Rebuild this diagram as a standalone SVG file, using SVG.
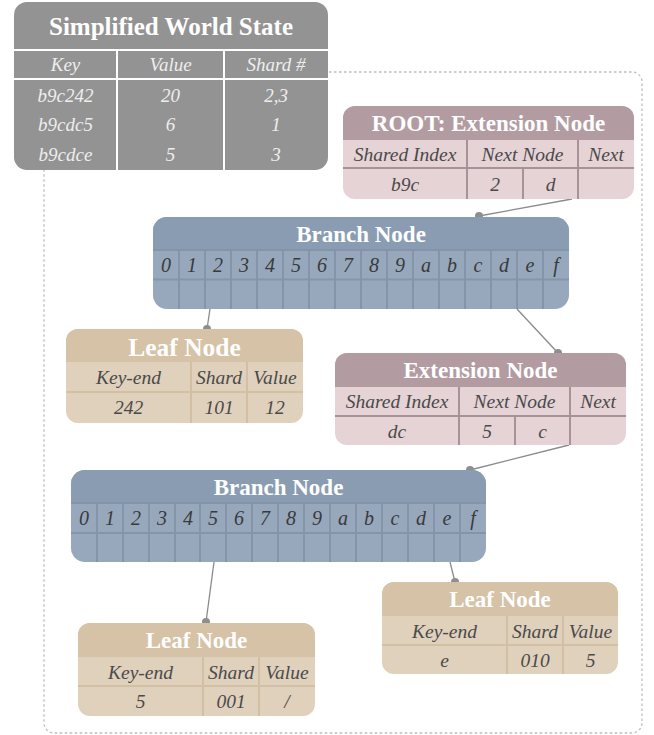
<svg xmlns="http://www.w3.org/2000/svg" width="654" height="735" viewBox="0 0 654 735">
<style>
.title{font-family:"Liberation Serif",serif;font-weight:bold;fill:#ffffff;text-anchor:middle}
.cell{font-family:"Liberation Serif",serif;font-style:italic;font-size:19.5px;fill:#4a4a4a;text-anchor:middle}
.ws{font-family:"Liberation Serif",serif;font-style:italic;font-size:19px;fill:#eeeeee;text-anchor:middle}
.dig{font-family:"Liberation Serif",serif;font-style:italic;font-size:20px;fill:#3a3a3a;text-anchor:middle}
.wl{stroke:#ffffff;stroke-width:2}
.el{stroke:#a8929a;stroke-width:2}
.bl{stroke:#8495aa;stroke-width:2}
.ll{stroke:#d2bfa4;stroke-width:2}
.conn line{stroke:#8a8a8a;stroke-width:1.3}
.conn circle{fill:#8e8e8e}
</style>
<rect x="44" y="72" width="598" height="661" rx="10" fill="none" stroke="#bdbdbd" stroke-width="1.3" stroke-dasharray="2.5,2.5"/>

<g id="world-state">
<rect x="14" y="2" width="314" height="168" rx="13" fill="#939393"/>
<text class="title" x="171" y="35" font-size="25">Simplified World State</text>
<line class="wl" x1="14" y1="50" x2="328" y2="50"/>
<line class="wl" x1="14" y1="79" x2="328" y2="79"/>
<line class="wl" x1="117" y1="50" x2="117" y2="170"/>
<line class="wl" x1="224" y1="50" x2="224" y2="170"/>
<text class="ws" x="65.5" y="71">Key</text>
<text class="ws" x="170.5" y="71">Value</text>
<text class="ws" x="276" y="71">Shard #</text>
<text class="ws" x="65.5" y="102">b9c242</text>
<text class="ws" x="170.5" y="102">20</text>
<text class="ws" x="276" y="102">2,3</text>
<text class="ws" x="65.5" y="131">b9cdc5</text>
<text class="ws" x="170.5" y="131">6</text>
<text class="ws" x="276" y="131">1</text>
<text class="ws" x="65.5" y="161">b9cdce</text>
<text class="ws" x="170.5" y="161">5</text>
<text class="ws" x="276" y="161">3</text>
</g>

<g id="connectors" class="conn">
<line x1="572" y1="199" x2="479" y2="216"/>
<circle cx="479" cy="216" r="4"/>
<line x1="210" y1="309" x2="207" y2="329"/>
<circle cx="207" cy="329" r="4"/>
<line x1="517" y1="309" x2="558" y2="353"/>
<circle cx="558" cy="353" r="4"/>
<line x1="569" y1="445" x2="470" y2="470"/>
<circle cx="470" cy="470" r="4"/>
<line x1="214" y1="562" x2="206" y2="622"/>
<circle cx="206" cy="622" r="4"/>
<line x1="450" y1="562" x2="455" y2="582"/>
<circle cx="455" cy="582" r="4"/>
</g>

<g id="root-extension">
<rect x="343" y="106" width="291" height="93" rx="12" fill="#e5d3d6"/>
<path d="M343,140 V118 A12,12 0 0 1 355,106 H622 A12,12 0 0 1 634,118 V140 Z" fill="#b29ca2"/>
<text class="title" x="488.5" y="131" font-size="23">ROOT: Extension Node</text>
<line class="el" x1="343" y1="168" x2="634" y2="168"/>
<line class="el" x1="467" y1="140" x2="467" y2="199"/>
<line class="el" x1="578" y1="140" x2="578" y2="199"/>
<line class="el" x1="523" y1="168" x2="523" y2="199"/>
<text class="cell" x="405" y="161">Shared Index</text>
<text class="cell" x="522.5" y="161">Next Node</text>
<text class="cell" x="606" y="161">Next</text>
<text class="cell" x="405" y="191">b9c</text>
<text class="cell" x="495" y="191">2</text>
<text class="cell" x="550.5" y="191">d</text>
</g>

<g id="branch-1">
<rect x="153" y="217" width="416" height="92" rx="14" fill="#97a8bd"/>
<path d="M153,250 V231 A14,14 0 0 1 167,217 H555 A14,14 0 0 1 569,231 V250 Z" fill="#8a9cb1"/>
<text class="title" x="361" y="242" font-size="23">Branch Node</text>
<line class="bl" x1="153" y1="250" x2="569" y2="250"/>
<line class="bl" x1="153" y1="279.5" x2="569" y2="279.5"/>
<g class="bl">
<line x1="179" y1="250" x2="179" y2="309"/><line x1="205" y1="250" x2="205" y2="309"/><line x1="231" y1="250" x2="231" y2="309"/><line x1="257" y1="250" x2="257" y2="309"/><line x1="283" y1="250" x2="283" y2="309"/><line x1="309" y1="250" x2="309" y2="309"/><line x1="335" y1="250" x2="335" y2="309"/><line x1="361" y1="250" x2="361" y2="309"/><line x1="387" y1="250" x2="387" y2="309"/><line x1="413" y1="250" x2="413" y2="309"/><line x1="439" y1="250" x2="439" y2="309"/><line x1="465" y1="250" x2="465" y2="309"/><line x1="491" y1="250" x2="491" y2="309"/><line x1="517" y1="250" x2="517" y2="309"/><line x1="543" y1="250" x2="543" y2="309"/>
</g>
<text class="dig" y="272"><tspan x="166">0</tspan><tspan x="192">1</tspan><tspan x="218">2</tspan><tspan x="244">3</tspan><tspan x="270">4</tspan><tspan x="296">5</tspan><tspan x="322">6</tspan><tspan x="348">7</tspan><tspan x="374">8</tspan><tspan x="400">9</tspan><tspan x="426">a</tspan><tspan x="452">b</tspan><tspan x="478">c</tspan><tspan x="504">d</tspan><tspan x="530">e</tspan><tspan x="556">f</tspan></text>
</g>

<g id="leaf-1">
<rect x="66" y="329" width="237" height="94" rx="12" fill="#e0d1bc"/>
<path d="M66,362 V341 A12,12 0 0 1 78,329 H291 A12,12 0 0 1 303,341 V362 Z" fill="#d5c2a7"/>
<text class="title" x="184.5" y="356" font-size="25.5">Leaf Node</text>
<line class="ll" x1="66" y1="392" x2="303" y2="392"/>
<line class="ll" x1="191" y1="362" x2="191" y2="423"/>
<line class="ll" x1="247" y1="362" x2="247" y2="423"/>
<text class="cell" x="128.5" y="384">Key-end</text>
<text class="cell" x="219" y="384">Shard</text>
<text class="cell" x="275" y="384">Value</text>
<text class="cell" x="128.5" y="414">242</text>
<text class="cell" x="219" y="414">101</text>
<text class="cell" x="275" y="414">12</text>
</g>

<g id="extension">
<rect x="335" y="353" width="291" height="92" rx="12" fill="#e5d3d6"/>
<path d="M335,387 V365 A12,12 0 0 1 347,353 H614 A12,12 0 0 1 626,365 V387 Z" fill="#b29ca2"/>
<text class="title" x="480.5" y="378" font-size="23">Extension Node</text>
<line class="el" x1="335" y1="416" x2="626" y2="416"/>
<line class="el" x1="459" y1="387" x2="459" y2="445"/>
<line class="el" x1="570" y1="387" x2="570" y2="445"/>
<line class="el" x1="515" y1="416" x2="515" y2="445"/>
<text class="cell" x="397" y="408">Shared Index</text>
<text class="cell" x="514.5" y="408">Next Node</text>
<text class="cell" x="598" y="408">Next</text>
<text class="cell" x="397" y="438">dc</text>
<text class="cell" x="487" y="438">5</text>
<text class="cell" x="542.5" y="438">c</text>
</g>

<g id="branch-2">
<rect x="71" y="470" width="415" height="92" rx="14" fill="#97a8bd"/>
<path d="M71,503 V484 A14,14 0 0 1 85,470 H472 A14,14 0 0 1 486,484 V503 Z" fill="#8a9cb1"/>
<text class="title" x="278.5" y="495" font-size="23">Branch Node</text>
<line class="bl" x1="71" y1="503" x2="486" y2="503"/>
<line class="bl" x1="71" y1="533" x2="486" y2="533"/>
<g class="bl">
<line x1="97" y1="503" x2="97" y2="562"/><line x1="123" y1="503" x2="123" y2="562"/><line x1="149" y1="503" x2="149" y2="562"/><line x1="175" y1="503" x2="175" y2="562"/><line x1="200" y1="503" x2="200" y2="562"/><line x1="226" y1="503" x2="226" y2="562"/><line x1="252" y1="503" x2="252" y2="562"/><line x1="278" y1="503" x2="278" y2="562"/><line x1="304" y1="503" x2="304" y2="562"/><line x1="330" y1="503" x2="330" y2="562"/><line x1="356" y1="503" x2="356" y2="562"/><line x1="382" y1="503" x2="382" y2="562"/><line x1="408" y1="503" x2="408" y2="562"/><line x1="434" y1="503" x2="434" y2="562"/><line x1="460" y1="503" x2="460" y2="562"/>
</g>
<text class="dig" y="525"><tspan x="84">0</tspan><tspan x="110">1</tspan><tspan x="136">2</tspan><tspan x="162">3</tspan><tspan x="188">4</tspan><tspan x="213">5</tspan><tspan x="239">6</tspan><tspan x="265">7</tspan><tspan x="291">8</tspan><tspan x="317">9</tspan><tspan x="343">a</tspan><tspan x="369">b</tspan><tspan x="395">c</tspan><tspan x="421">d</tspan><tspan x="447">e</tspan><tspan x="473">f</tspan></text>
</g>

<g id="leaf-2">
<rect x="78" y="623" width="237" height="93" rx="12" fill="#e0d1bc"/>
<path d="M78,657 V635 A12,12 0 0 1 90,623 H303 A12,12 0 0 1 315,635 V657 Z" fill="#d5c2a7"/>
<text class="title" x="196.5" y="648" font-size="23">Leaf Node</text>
<line class="ll" x1="78" y1="686" x2="315" y2="686"/>
<line class="ll" x1="203" y1="657" x2="203" y2="716"/>
<line class="ll" x1="259" y1="657" x2="259" y2="716"/>
<text class="cell" x="140.5" y="679">Key-end</text>
<text class="cell" x="231" y="679">Shard</text>
<text class="cell" x="287" y="679">Value</text>
<text class="cell" x="140.5" y="708">5</text>
<text class="cell" x="231" y="708">001</text>
<text class="cell" x="287" y="708">/</text>
</g>

<g id="leaf-3">
<rect x="382" y="582" width="236" height="92" rx="12" fill="#e0d1bc"/>
<path d="M382,616 V594 A12,12 0 0 1 394,582 H606 A12,12 0 0 1 618,594 V616 Z" fill="#d5c2a7"/>
<text class="title" x="500" y="607" font-size="23">Leaf Node</text>
<line class="ll" x1="382" y1="645" x2="618" y2="645"/>
<line class="ll" x1="507" y1="616" x2="507" y2="674"/>
<line class="ll" x1="563" y1="616" x2="563" y2="674"/>
<text class="cell" x="444.5" y="638">Key-end</text>
<text class="cell" x="535" y="638">Shard</text>
<text class="cell" x="590.5" y="638">Value</text>
<text class="cell" x="444.5" y="667">e</text>
<text class="cell" x="535" y="667">010</text>
<text class="cell" x="590.5" y="667">5</text>
</g>
</svg>
